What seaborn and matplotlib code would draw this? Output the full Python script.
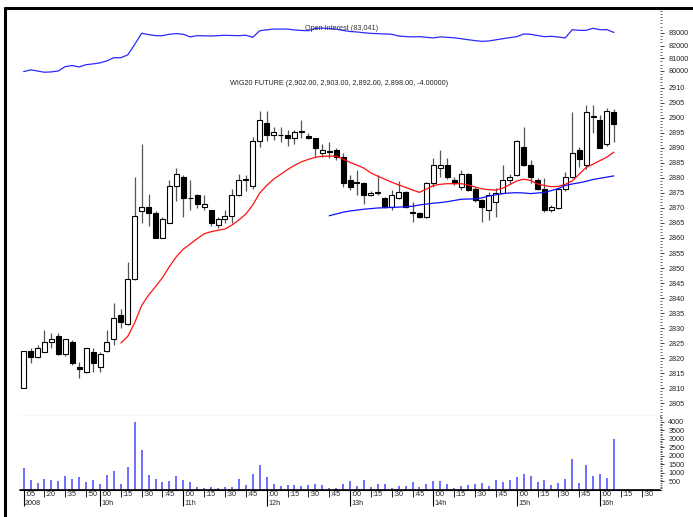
import numpy as np
import pandas as pd
import matplotlib
matplotlib.use("Agg")
import matplotlib.pyplot as plt
from matplotlib.lines import Line2D
from matplotlib.ticker import MultipleLocator
import seaborn as sns

# 5-minute bars, minutes after 9:00 (9:05 ... 16:10)
minutes = list(range(5, 431, 5))

opens = [2810.1, 2822.3, 2820.2, 2822.1, 2825.2, 2827.3, 2821.2, 2825.2, 2817.1, 2815.2,
         2822.1, 2817.1, 2822.3, 2826.2, 2834.3, 2831.2, 2846.2, 2869.1, 2870.2, 2868.2,
         2860.1, 2865.1, 2877.3, 2880.4, 2873.4, 2874.3, 2870.3, 2869.2, 2864.3, 2866.2,
         2867.2, 2874.3, 2879.3, 2877.3, 2892.3, 2898.2, 2894.3, 2894.3, 2894.3, 2893.4,
         2895.4, 2894.1, 2893.2, 2888.2, 2888.8, 2889.3, 2887.1, 2879.3, 2878.5, 2878.4,
         2874.3, 2875.1, 2873.4, 2870.4, 2873.4, 2875.2, 2868.5, 2868.2, 2867.1, 2878.4,
         2883.2, 2884.3, 2879.3, 2877.1, 2881.2, 2876.2, 2872.7, 2869.3, 2872.1, 2875.1,
         2879.3, 2881.0, 2890.4, 2884.3, 2879.3, 2876.2, 2869.3, 2870.1, 2876.2, 2880.4,
         2889.3, 2884.3, 2900.4, 2899.3, 2891.2, 2902.0]
highs = [2822.5, 2823.2, 2824.3, 2829.3, 2828.2, 2828.2, 2826.5, 2826.0, 2818.8, 2823.5,
         2823.2, 2822.1, 2829.3, 2838.2, 2836.2, 2852.1, 2880.4, 2891.2, 2874.6, 2869.0,
         2867.0, 2879.3, 2883.4, 2881.0, 2879.3, 2874.5, 2874.3, 2869.3, 2867.1, 2869.2,
         2876.2, 2881.2, 2881.0, 2893.8, 2902.3, 2902.3, 2897.1, 2897.1, 2896.0, 2896.0,
         2899.3, 2894.9, 2893.3, 2891.2, 2892.1, 2890.0, 2888.2, 2881.0, 2882.7, 2878.6,
         2875.5, 2881.0, 2873.5, 2876.0, 2879.0, 2875.5, 2872.1, 2868.5, 2878.6, 2886.6,
         2889.3, 2886.6, 2880.4, 2882.7, 2881.5, 2877.0, 2873.0, 2875.4, 2876.5, 2884.3,
         2881.2, 2892.5, 2897.1, 2886.0, 2880.0, 2879.9, 2871.0, 2876.5, 2882.1, 2902.1,
         2890.4, 2904.3, 2904.3, 2901.0, 2903.3, 2903.0]
lows = [2810.0, 2818.2, 2820.0, 2822.0, 2823.2, 2821.0, 2820.8, 2817.7, 2813.2, 2815.0,
        2815.5, 2815.2, 2822.0, 2824.3, 2829.9, 2831.0, 2846.0, 2865.1, 2864.1, 2860.0,
        2860.0, 2865.0, 2872.3, 2867.1, 2869.3, 2869.9, 2869.3, 2864.0, 2863.2, 2865.1,
        2865.1, 2874.0, 2875.5, 2876.2, 2890.4, 2892.3, 2892.7, 2892.1, 2890.5, 2891.2,
        2893.4, 2893.0, 2887.1, 2887.1, 2886.6, 2886.0, 2877.0, 2876.0, 2874.3, 2871.2,
        2874.0, 2874.3, 2870.0, 2869.3, 2873.0, 2870.0, 2865.3, 2866.8, 2866.8, 2877.0,
        2880.4, 2879.8, 2877.5, 2876.0, 2875.8, 2872.0, 2865.4, 2866.0, 2867.1, 2875.0,
        2878.0, 2880.8, 2884.0, 2878.2, 2876.0, 2868.8, 2868.6, 2869.5, 2875.5, 2880.0,
        2883.8, 2883.0, 2894.9, 2890.0, 2890.8, 2892.0]
closes = [2822.3, 2820.5, 2823.2, 2825.2, 2826.2, 2821.2, 2826.2, 2818.2, 2816.2, 2823.2,
          2818.2, 2821.2, 2825.2, 2833.2, 2832.1, 2846.2, 2867.3, 2870.2, 2868.2, 2860.1,
          2866.2, 2877.3, 2881.2, 2873.2, 2873.2, 2871.2, 2871.2, 2865.1, 2866.2, 2867.2,
          2874.3, 2879.3, 2879.5, 2892.3, 2899.3, 2894.3, 2895.2, 2894.4, 2893.2, 2895.2,
          2895.5, 2893.2, 2890.1, 2889.3, 2888.9, 2887.1, 2878.2, 2877.1, 2878.4, 2874.3,
          2875.1, 2875.2, 2870.4, 2874.3, 2875.2, 2870.4, 2868.4, 2867.1, 2878.4, 2884.3,
          2884.3, 2880.4, 2878.2, 2881.2, 2876.0, 2872.7, 2870.4, 2874.3, 2875.1, 2879.3,
          2880.4, 2892.3, 2884.3, 2880.4, 2876.2, 2869.3, 2870.2, 2876.2, 2880.4, 2888.2,
          2886.2, 2902.1, 2900.5, 2890.1, 2902.3, 2898.0]

volume = [1290, 560, 420, 620, 600, 500, 800, 620, 740, 460,
          600, 360, 860, 1130, 360, 1350, 4010, 2340, 880, 620,
          440, 520, 800, 560, 440, 170, 130, 170, 90, 170,
          170, 660, 270, 960, 1450, 760, 330, 250, 310, 270,
          250, 270, 330, 270, 110, 90, 330, 500, 250, 560,
          150, 370, 330, 130, 250, 250, 440, 170, 330, 520,
          500, 330, 90, 230, 270, 330, 420, 230, 560, 440,
          560, 760, 960, 820, 440, 600, 310, 400, 620, 1800,
          400, 1490, 820, 920, 720, 2970]

open_interest = [79950, 80090, 80000, 79900, 79930, 80000, 80350, 80430, 80320, 80500,
                 80560, 80640, 80800, 81050, 81050, 81270, 82100, 82980, 82870, 82790,
                 82790, 82900, 82950, 82900, 82690, 82790, 82780, 82760, 82790, 82820,
                 82800, 82790, 82820, 82660, 83180, 83250, 83310, 83310, 83310, 83240,
                 83200, 83180, 83350, 83390, 83350, 83310, 83200, 83120, 83080, 83020,
                 82970, 82950, 82920, 82900, 82760, 82720, 82690, 82710, 82660, 82610,
                 82690, 82660, 82620, 82550, 82470, 82400, 82340, 82370, 82460, 82550,
                 82630, 82710, 82920, 82900, 82800, 82710, 82740, 82680, 82610, 83260,
                 83210, 83210, 83370, 83260, 83260, 83041]

# moving averages as drawn on the chart (red from bar 14, blue from bar 44)
red_ma = [2825.0, 2827.2, 2831.8, 2837.5, 2841.0, 2843.8, 2846.8, 2850.5, 2853.8, 2856.3,
          2858.0, 2859.8, 2861.4, 2862.1, 2862.6, 2863.0, 2864.3, 2866.0, 2868.0, 2871.0,
          2875.0, 2877.5, 2879.6, 2881.2, 2882.8, 2884.2, 2885.4, 2886.2, 2886.9, 2887.2,
          2887.3, 2887.3, 2886.3, 2885.2, 2884.3, 2883.3, 2881.7, 2880.6, 2879.6, 2878.6,
          2877.7, 2876.9, 2876.0, 2875.2, 2876.3, 2877.5, 2877.9, 2878.1, 2878.1, 2878.1,
          2877.7, 2877.0, 2876.4, 2876.1, 2876.0, 2876.6, 2877.8, 2879.0, 2879.6, 2879.2,
          2878.0, 2877.5, 2877.1, 2877.2, 2877.9, 2879.0, 2881.3, 2883.5, 2884.6, 2885.8,
          2887.0, 2888.6]
blue_ma = [2867.4, 2868.0, 2868.6, 2869.0, 2869.3, 2869.6, 2869.8, 2870.0, 2870.1, 2870.2,
           2870.3, 2870.4, 2870.6, 2871.0, 2871.3, 2871.6, 2871.8, 2872.1, 2872.5, 2872.9,
           2873.0, 2873.0, 2873.4, 2874.0, 2874.4, 2874.8, 2875.0, 2875.1, 2875.0, 2874.8,
           2875.0, 2875.2, 2875.8, 2876.5, 2877.5, 2878.0, 2878.4, 2878.9, 2879.5, 2879.9,
           2880.3, 2880.7]

oi_ticks = [80000, 81000, 82000, 83000]
vol_ticks = [500, 1000, 1500, 2000, 2500, 3000, 3500, 4000]

title_text = "WIG20 FUTURE (2,902.00, 2,903.00, 2,892.00, 2,898.00, -4.00000)"
oi_text = "Open Interest (83,041)"

sns.set_theme(style="white")
plt.rcParams['font.family'] = ['Liberation Sans', 'DejaVu Sans']

df = pd.DataFrame({"t": minutes, "open": opens, "high": highs, "low": lows,
                   "close": closes, "volume": volume, "oi": open_interest})
df_red = pd.DataFrame({"t": minutes[14:], "ma": red_ma})
df_blue = pd.DataFrame({"t": minutes[44:], "ma": blue_ma})

W, H = 693, 517
fig = plt.figure(figsize=(W / 100, H / 100), dpi=100)


def box(x0, y0, x1, y1):
    return [x0 / W, 1 - y1 / H, (x1 - x0) / W, (y1 - y0) / H]


ax_oi = fig.add_axes(box(20, 10, 660, 78))
ax_p = fig.add_axes(box(20, 78, 660, 416))
ax_v = fig.add_axes(box(20, 416, 660, 490))

xlim = (2.4, 463.2)
fs = 5.2

# open interest
sns.lineplot(data=df, x="t", y="oi", ax=ax_oi, color="#2a2aff", lw=0.9)
ax_oi.set_ylim(79447, 84815)
ax_oi.set_yticks(oi_ticks)
ax_oi.yaxis.set_minor_locator(MultipleLocator(250))
ax_oi.text(0.5 * (xlim[0] + xlim[1]) + 1, 83320, oi_text, fontsize=fs, color="#333333",
           ha="center", va="center")

# candles
up = df["close"] >= df["open"]
ax_p.vlines(df["t"], df["low"], df["high"], color="#555555", lw=0.9, zorder=2)
body_lo = np.minimum(df["open"], df["close"])
body_h = np.maximum(np.abs(df["close"] - df["open"]), 0.15)
ax_p.bar(df["t"], body_h, bottom=body_lo, width=3.6,
         color=np.where(up, "white", "black"), edgecolor="black", lw=0.8, zorder=3)
sns.lineplot(data=df_red, x="t", y="ma", ax=ax_p, color="#ff1010", lw=0.9, zorder=4)
sns.lineplot(data=df_blue, x="t", y="ma", ax=ax_p, color="#1010ff", lw=0.9, zorder=4)
ax_p.set_ylim(2800.67, 2913.33)
ax_p.yaxis.set_major_locator(MultipleLocator(5))
ax_p.yaxis.set_minor_locator(MultipleLocator(1))
ax_p.text(0.5 * (xlim[0] + xlim[1]) - 1, 2911.6, title_text, fontsize=fs, color="#222222",
          ha="center", va="center")

# volume
ax_v.vlines(df["t"], 0, df["volume"], color="#4646ff", lw=1.1)
ax_v.set_ylim(0, 4340)
ax_v.set_yticks(vol_ticks)
ax_v.yaxis.set_minor_locator(MultipleLocator(100))

for ax in (ax_oi, ax_p, ax_v):
    ax.set_xlim(*xlim)
    ax.set_xlabel("")
    ax.set_ylabel("")
    ax.yaxis.tick_right()
    ax.tick_params(axis="y", which="major", length=3, width=0.6, labelsize=fs, pad=3,
                   colors="#222222", right=True, left=False)
    ax.tick_params(axis="y", which="minor", length=1.5, width=0.5, right=True, left=False)
    for s in ("left", "right", "top"):
        ax.spines[s].set_visible(False)
    ax.grid(False)

ax_oi.set_xticks([])
ax_p.set_xticks([])
ax_oi.spines["bottom"].set_color("#cccccc")
ax_oi.spines["bottom"].set_linewidth(0.8)
ax_p.spines["bottom"].set_color("#666666")
ax_p.spines["bottom"].set_linewidth(0.8)
ax_v.spines["bottom"].set_color("black")
ax_v.spines["bottom"].set_linewidth(0.8)

# time axis: minute ticks every 15 min, hour labels below
tick_min = [5, 20, 35, 50] + list(range(60, 451, 15))
ax_v.set_xticks(tick_min)
ax_v.set_xticklabels([])
ax_v.tick_params(axis="x", which="major", length=5, width=0.6, direction="out",
                 bottom=True, color="black")
xt = ax_v.get_xaxis_transform()
for t in tick_min:
    ax_v.text(t + 1.0, -0.055, ":%02d" % (t % 60), transform=xt, fontsize=fs,
              ha="left", va="center", color="#222222")
ax_v.axhline(-0.095, color="black", lw=1.2, clip_on=False)
hour_ticks = [5] + list(range(60, 421, 60))
hour_labels = ["2008"] + ["%dh" % (9 + t // 60) for t in range(60, 421, 60)]
ax_v.vlines(hour_ticks, -0.21, 0, transform=xt, color="black", lw=0.8, clip_on=False)
for t, lab in zip(hour_ticks, hour_labels):
    ax_v.text(t + 1.0, -0.18, lab, transform=xt, fontsize=fs,
              ha="left", va="center", color="#222222")

# window frame (top and left edges)
fig.add_artist(Line2D([4.5 / W, 4.5 / W], [0, 1 - 7.5 / H], color="black", lw=2.2))
fig.add_artist(Line2D([4.5 / W, 1], [1 - 7.5 / H, 1 - 7.5 / H], color="black", lw=2.2))

fig.savefig("out.png", dpi=100)
